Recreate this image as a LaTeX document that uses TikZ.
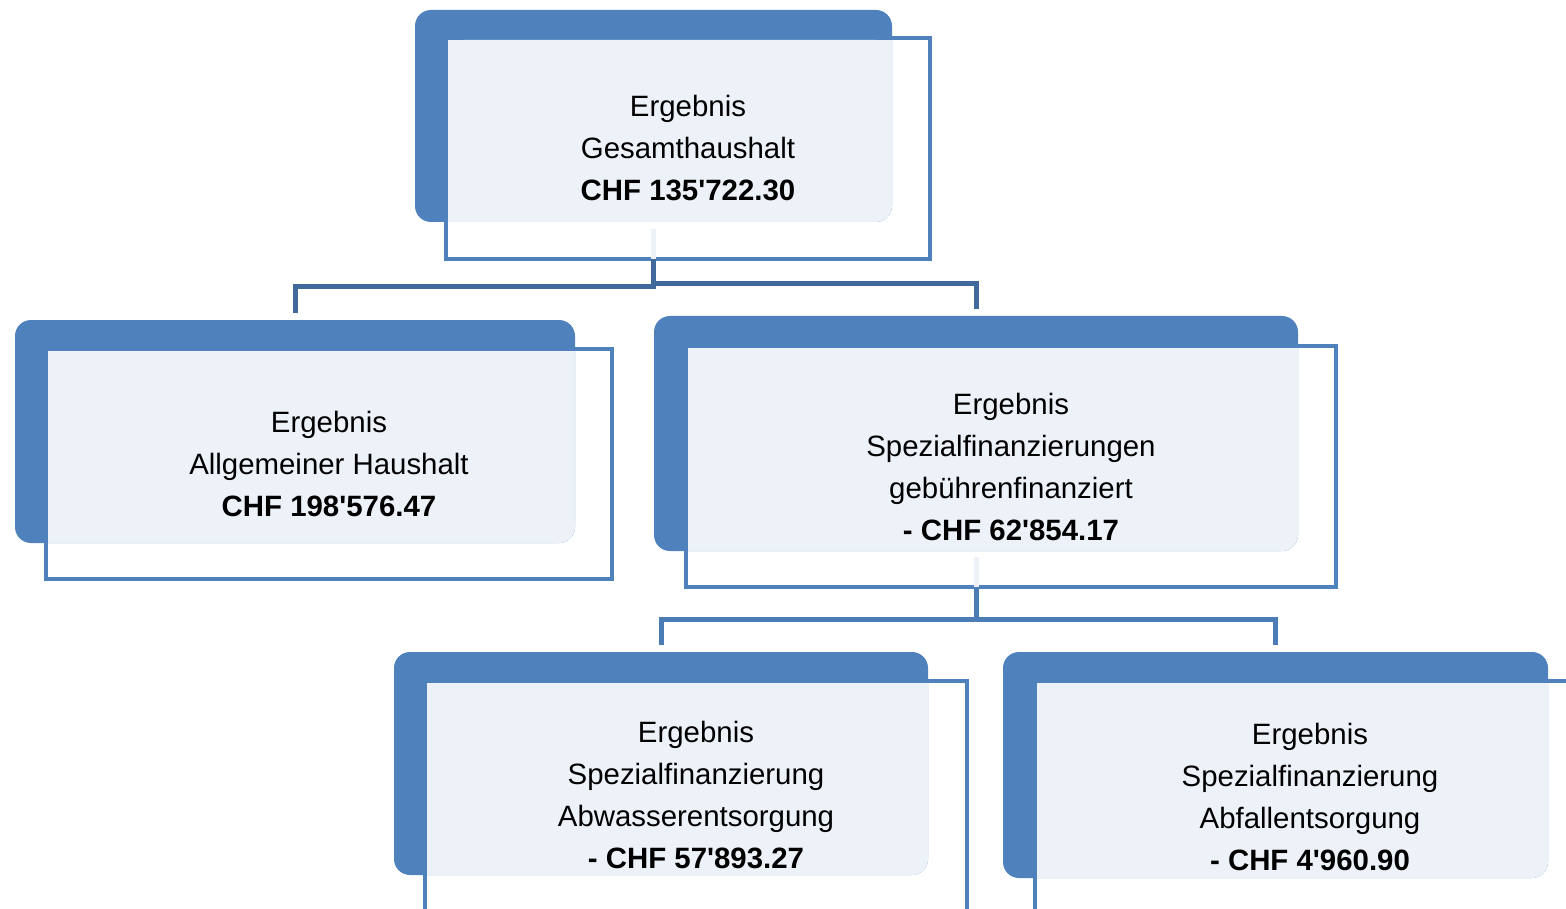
\documentclass[tikz,border=0pt]{standalone}
\usepackage{fontspec}
\setmainfont{Liberation Sans}
\usetikzlibrary{calc}
\definecolor{dkblue}{HTML}{4F81BD}
\definecolor{ltblue}{HTML}{EDF2F9}
\definecolor{conntop}{HTML}{41699B}
\definecolor{connlow}{HTML}{4C7CB6}
\tikzset{
  backbox/.style={fill=dkblue, rounded corners=16pt, inner sep=0pt, outer sep=0pt},
  framebox/.style={draw=dkblue, line width=4pt, inner sep=0pt, outer sep=0pt},
  txt/.style={align=center, inner sep=0pt, font=\fontsize{29.4}{42}\selectfont},
  ghost/.style={draw=ltblue, line width=5pt},
  conna/.style={draw=conntop, line width=5pt},
  connb/.style={draw=connlow, line width=5pt},
}
\newcommand{\lightpanel}[2]{%
  \fill[ltblue, rounded corners=16pt] ($(#1.north west)+(2,2)$) rectangle (#2.south east);
  \fill[ltblue] ($(#1.north west)+(2,2)$) rectangle ($(#2.south east)+(0,-20)$);
  \fill[ltblue] ($(#1.north west)+(2,2)$) rectangle ($(#2.south east)+(-20,0)$);
}
\newcommand{\q}{\textquotesingle}
\begin{document}
\begin{tikzpicture}[x=1pt, y=-1pt]
\useasboundingbox (0,0) rectangle (1566,909);
% box 1
\node[backbox, minimum width=477pt, minimum height=212pt] (d1) at (653.5,116) {};
\node[framebox, minimum width=484pt, minimum height=221pt] (f1) at (688,148.5) {};
\lightpanel{f1}{d1}
\node[txt] (t1) at (f1.center) {Ergebnis\\Gesamthaushalt\\\textbf{CHF 135\q722.30}};
% box 2
\node[backbox, minimum width=560pt, minimum height=223pt] (d2) at (295,431.5) {};
\node[framebox, minimum width=566pt, minimum height=230pt] (f2) at (329,464) {};
\lightpanel{f2}{d2}
\node[txt] (t2) at (f2.center) {Ergebnis\\Allgemeiner Haushalt\\\textbf{CHF 198\q576.47}};
% box 3
\node[backbox, minimum width=644pt, minimum height=235pt] (d3) at (976,433.5) {};
\node[framebox, minimum width=650pt, minimum height=241pt] (f3) at (1011,466.5) {};
\lightpanel{f3}{d3}
\node[txt] (t3) at (f3.center) {Ergebnis\\Spezialfinanzierungen\\gebührenfinanziert\\\textbf{- CHF 62\q854.17}};
% box 4
\node[backbox, minimum width=534pt, minimum height=223pt] (d4) at (661,763.5) {};
\node[framebox, minimum width=542pt, minimum height=234pt] (f4) at (696,798) {};
\lightpanel{f4}{d4}
\node[txt] (t4) at ($(f4.north)+(0,114)$) {Ergebnis\\Spezialfinanzierung\\Abwasserentsorgung\\\textbf{- CHF 57\q893.27}};
% box 5
\node[backbox, minimum width=545pt, minimum height=226pt] (d5) at (1275.5,765) {};
\node[framebox, minimum width=550pt, minimum height=236pt] (f5) at (1310,799) {};
\lightpanel{f5}{d5}
\node[txt] (t5) at ($(f5.north)+(0,115.5)$) {Ergebnis\\Spezialfinanzierung\\Abfallentsorgung\\\textbf{- CHF 4\q960.90}};
% connectors top
\draw[ghost] ($(d1.south)+(0,7)$) -- (d1.south |- f1.south);
\draw[conna] (d1.south |- f1.south) -- ++(0,28) -| ($(d2.north)+(0,-7)$);
\draw[conna] ($(d1.south |- f1.south)+(0,25)$) -| ($(d3.north)+(0,-7)$);
% connectors lower
\draw[ghost] ($(d3.south)+(0,6)$) -- (d3.south |- f3.south);
\draw[connb] (d3.south |- f3.south) -- ++(0,32) coordinate (m3);
\draw[connb] (m3) -| ($(d4.north)+(0,-7)$);
\draw[connb] (m3) -| ($(d5.north)+(0,-7)$);
\end{tikzpicture}
\end{document}
